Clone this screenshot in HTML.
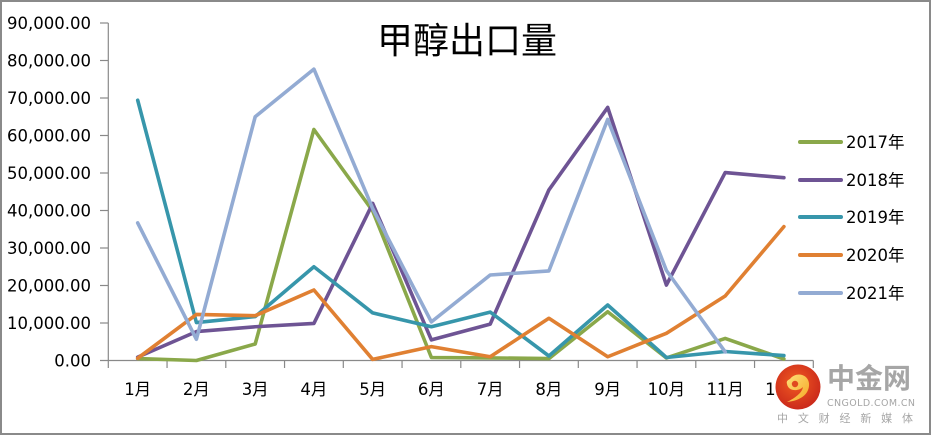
<!DOCTYPE html>
<html>
<head>
<meta charset="utf-8">
<style>
html,body{margin:0;padding:0;background:#fff;}
body{width:931px;height:435px;overflow:hidden;}
svg{display:block;}
.yl{font-family:"DejaVu Sans","Liberation Sans",sans-serif;font-size:16.5px;fill:#000;text-anchor:end;}
.xl{font-family:"DejaVu Sans","Noto Sans CJK SC",sans-serif;font-size:16.5px;fill:#000;text-anchor:middle;}
.lg{font-family:"DejaVu Sans","Noto Sans CJK SC",sans-serif;font-size:16.5px;fill:#000;}
.s{fill:none;stroke-width:3.6;stroke-linejoin:round;stroke-linecap:round;}
</style>
</head>
<body>
<svg width="931" height="435" viewBox="0 0 931 435" xmlns="http://www.w3.org/2000/svg">
<defs>
<radialGradient id="lg1" cx="0.45" cy="0.4" r="0.65">
<stop offset="0" stop-color="#f05a22"/>
<stop offset="1" stop-color="#c8261a"/>
</radialGradient>
<linearGradient id="yg" x1="0" y1="0" x2="1" y2="1">
<stop offset="0" stop-color="#fde07a"/>
<stop offset="1" stop-color="#f6a623"/>
</linearGradient>
</defs>
<rect x="1" y="1" width="929" height="433" fill="#fff" stroke="#8a8a8a" stroke-width="2"/>

<!-- title -->
<text x="467" y="53" text-anchor="middle" style="font-family:'Noto Sans CJK SC','WenQuanYi Zen Hei',sans-serif;font-size:36px;fill:#000;">甲醇出口量</text>

<!-- axes -->
<g stroke="#898989" stroke-width="1.2" fill="none">
<line x1="108.3" y1="23" x2="108.3" y2="360.5"/>
<line x1="100" y1="23" x2="108.3" y2="23"/>
<line x1="100" y1="60.5" x2="108.3" y2="60.5"/>
<line x1="100" y1="98" x2="108.3" y2="98"/>
<line x1="100" y1="135.5" x2="108.3" y2="135.5"/>
<line x1="100" y1="173" x2="108.3" y2="173"/>
<line x1="100" y1="210.5" x2="108.3" y2="210.5"/>
<line x1="100" y1="248" x2="108.3" y2="248"/>
<line x1="100" y1="285.5" x2="108.3" y2="285.5"/>
<line x1="100" y1="323" x2="108.3" y2="323"/>
<line x1="100" y1="360.5" x2="813.3" y2="360.5"/>
<line x1="108.3" y1="360.5" x2="108.3" y2="368"/>
<line x1="167.05" y1="360.5" x2="167.05" y2="368"/>
<line x1="225.8" y1="360.5" x2="225.8" y2="368"/>
<line x1="284.55" y1="360.5" x2="284.55" y2="368"/>
<line x1="343.3" y1="360.5" x2="343.3" y2="368"/>
<line x1="402.05" y1="360.5" x2="402.05" y2="368"/>
<line x1="460.8" y1="360.5" x2="460.8" y2="368"/>
<line x1="519.55" y1="360.5" x2="519.55" y2="368"/>
<line x1="578.3" y1="360.5" x2="578.3" y2="368"/>
<line x1="637.05" y1="360.5" x2="637.05" y2="368"/>
<line x1="695.8" y1="360.5" x2="695.8" y2="368"/>
<line x1="754.55" y1="360.5" x2="754.55" y2="368"/>
<line x1="813.3" y1="360.5" x2="813.3" y2="368"/>
</g>

<!-- y labels -->
<text class="yl" x="91" y="29">90,000.00</text>
<text class="yl" x="91" y="66.5">80,000.00</text>
<text class="yl" x="91" y="104">70,000.00</text>
<text class="yl" x="91" y="141.5">60,000.00</text>
<text class="yl" x="91" y="179">50,000.00</text>
<text class="yl" x="91" y="216.5">40,000.00</text>
<text class="yl" x="91" y="254">30,000.00</text>
<text class="yl" x="91" y="291.5">20,000.00</text>
<text class="yl" x="91" y="329">10,000.00</text>
<text class="yl" x="91" y="366.5">0.00</text>

<!-- x labels -->
<text class="xl" x="137.7" y="395">1月</text>
<text class="xl" x="196.4" y="395">2月</text>
<text class="xl" x="255.2" y="395">3月</text>
<text class="xl" x="313.9" y="395">4月</text>
<text class="xl" x="372.7" y="395">5月</text>
<text class="xl" x="431.4" y="395">6月</text>
<text class="xl" x="490.2" y="395">7月</text>
<text class="xl" x="548.9" y="395">8月</text>
<text class="xl" x="607.7" y="395">9月</text>
<text class="xl" x="666.4" y="395">10月</text>
<text class="xl" x="725.2" y="395">11月</text>
<text class="xl" x="783.9" y="395">12月</text>

<!-- series -->
<polyline class="s" stroke="#8aa84a" points="137.7,358.6 196.4,360.5 255.2,344 313.9,129.5 372.7,211 431.4,357.5 490.2,357.9 548.9,358.6 607.7,311.75 666.4,357.9 725.2,338.4 783.9,359"/>
<polyline class="s" stroke="#6e5494" points="137.7,357.1 196.4,331.6 255.2,326.75 313.9,323.4 372.7,203.4 431.4,339.9 490.2,324.1 548.9,189.9 607.7,107.4 666.4,285.1 725.2,172.6 783.9,177.7"/>
<polyline class="s" stroke="#3796ab" points="137.7,100.25 196.4,322.6 255.2,316.6 313.9,266.75 372.7,312.9 431.4,326.75 490.2,312.1 548.9,356 607.7,305 666.4,357.5 725.2,351.5 783.9,355.6"/>
<polyline class="s" stroke="#e08032" points="137.7,358.25 196.4,314.4 255.2,315.7 313.9,290 372.7,359.4 431.4,346.6 490.2,356.75 548.9,318.3 607.7,356.75 666.4,333.3 725.2,296 783.9,226.6"/>
<polyline class="s" stroke="#93abd3" points="137.7,222.9 196.4,339.3 255.2,116.75 313.9,69.1 372.7,208.6 431.4,321.9 490.2,275 548.9,270.9 607.7,119.4 666.4,270.5 725.2,351.9"/>

<!-- legend -->
<g stroke-width="4" stroke-linecap="round">
<line x1="800" y1="142" x2="841" y2="142" stroke="#8aa84a"/>
<line x1="800" y1="180" x2="841" y2="180" stroke="#6e5494"/>
<line x1="800" y1="217" x2="841" y2="217" stroke="#3796ab"/>
<line x1="800" y1="255" x2="841" y2="255" stroke="#e08032"/>
<line x1="800" y1="293" x2="841" y2="293" stroke="#93abd3"/>
</g>
<text class="lg" x="846" y="148">2017年</text>
<text class="lg" x="846" y="186">2018年</text>
<text class="lg" x="846" y="223">2019年</text>
<text class="lg" x="846" y="261">2020年</text>
<text class="lg" x="846" y="299">2021年</text>

<!-- watermark logo -->
<circle cx="798" cy="387" r="22.5" fill="url(#lg1)"/>
<path d="M790,379 C796,371 810,374 809,386 C808,396 798,401 787,402 C795,398 802,393 803,387 C798,392 788,391 787,384 C786,381 788,380 790,379 Z" fill="url(#yg)"/>
<circle cx="795" cy="384" r="3.2" fill="#e0491f"/>
<text x="827" y="388" style="font-family:'Noto Sans CJK SC','WenQuanYi Zen Hei',sans-serif;font-size:28px;font-weight:bold;fill:#a6a6a6;">中金网</text>
<text x="827" y="406" textLength="88" style="font-family:'DejaVu Sans','Liberation Sans',sans-serif;font-size:9.5px;fill:#a6a6a6;">CNGOLD.COM.CN</text>
<text x="777" y="422" textLength="136" style="font-family:'Noto Sans CJK SC','WenQuanYi Zen Hei',sans-serif;font-size:11px;fill:#a6a6a6;">中文财经新媒体</text>
</svg>
</body>
</html>
